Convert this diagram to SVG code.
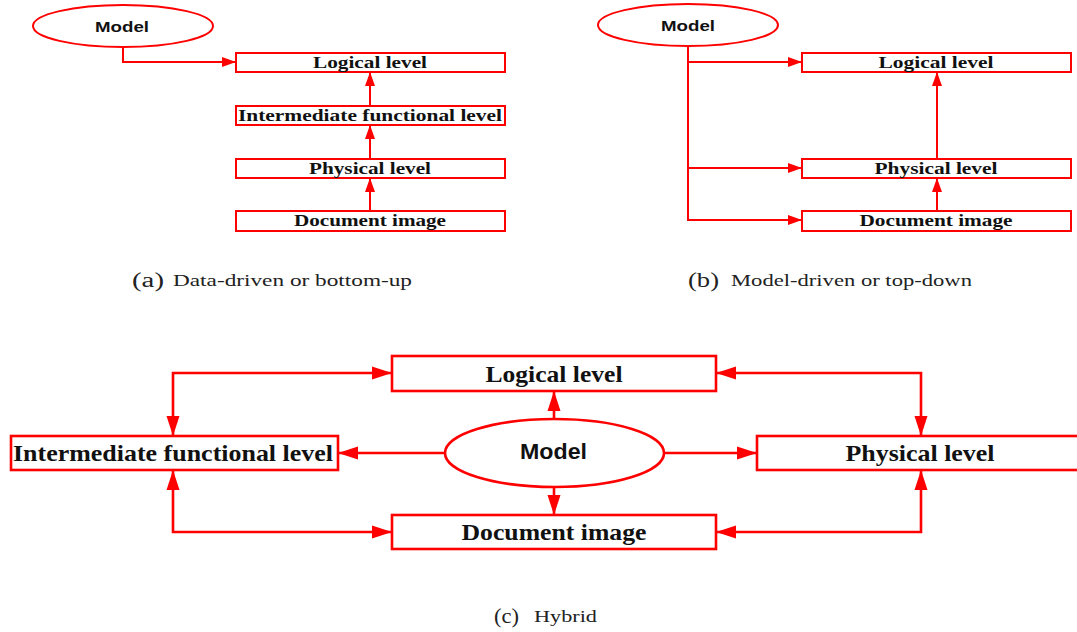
<svg xmlns="http://www.w3.org/2000/svg" width="1077" height="632" viewBox="0 0 1077 632">
<style>
.box{fill:#fff;stroke:#ff0000;stroke-width:2}
.boxc{fill:#fff;stroke:#ff0000;stroke-width:2.6}
.ell{fill:#fff;stroke:#ff0000;stroke-width:2}
.ellc{fill:#fff;stroke:#ff0000;stroke-width:2.6}
.lbl{font-family:"Liberation Serif","Times New Roman",serif;font-weight:bold;fill:#111;text-anchor:middle}
.mdl{font-family:"Liberation Sans",Arial,sans-serif;font-weight:bold;fill:#111;text-anchor:middle}
.cap{font-family:"Liberation Serif","Times New Roman",serif;fill:#222}
.c{fill:none;stroke:#ff0000;stroke-width:2}
.cc{fill:none;stroke:#ff0000;stroke-width:2.6}
</style>
<defs>
<marker id="as" markerUnits="userSpaceOnUse" markerWidth="15" markerHeight="10" refX="14" refY="5" orient="auto-start-reverse"><path d="M0,0 L14,5 L0,10 z" fill="#ff0000"/></marker>
<marker id="al" markerUnits="userSpaceOnUse" markerWidth="21" markerHeight="14" refX="20" refY="7" orient="auto-start-reverse"><path d="M0,0.5 L20,7 L0,13.5 z" fill="#ff0000"/></marker>
</defs>
<rect width="1077" height="632" fill="#fff"/>

<g id="connectors">
<path class="c" d="M123,47 V62 H236" marker-end="url(#as)"/>
<path class="c" d="M370,211 V178" marker-end="url(#as)"/>
<path class="c" d="M370,159 V125" marker-end="url(#as)"/>
<path class="c" d="M370,106 V72" marker-end="url(#as)"/>
<path class="c" d="M688,46 V220 H802" marker-end="url(#as)"/>
<path class="c" d="M688,62 H802" marker-end="url(#as)"/>
<path class="c" d="M688,168 H802" marker-end="url(#as)"/>
<path class="c" d="M937,211 V178" marker-end="url(#as)"/>
<path class="c" d="M937,159 V72" marker-end="url(#as)"/>
<path class="cc" d="M445,453 H338" marker-end="url(#al)"/>
<path class="cc" d="M664,453 H757" marker-end="url(#al)"/>
<path class="cc" d="M554,419 V391" marker-end="url(#al)"/>
<path class="cc" d="M554,487 V515" marker-end="url(#al)"/>
<path class="cc" d="M392,373 H173 V436" marker-start="url(#al)" marker-end="url(#al)"/>
<path class="cc" d="M392,532 H173 V470" marker-start="url(#al)" marker-end="url(#al)"/>
<path class="cc" d="M716,373 H921 V436" marker-start="url(#al)" marker-end="url(#al)"/>
<path class="cc" d="M716,532 H921 V470" marker-start="url(#al)" marker-end="url(#al)"/>
</g>

<g id="a-model"><ellipse class="ell" cx="123" cy="26" rx="90" ry="21"/><text class="mdl" x="122" y="32" font-size="15.5" textLength="54" lengthAdjust="spacingAndGlyphs">Model</text></g>
<g id="a-logical"><rect class="box" x="236" y="53" width="269" height="19"/><text class="lbl" x="370" y="68" font-size="17" textLength="114" lengthAdjust="spacingAndGlyphs">Logical level</text></g>
<g id="a-intermediate"><rect class="box" x="236" y="106" width="269" height="19"/><text class="lbl" x="370" y="121" font-size="17" textLength="264" lengthAdjust="spacingAndGlyphs">Intermediate functional level</text></g>
<g id="a-physical"><rect class="box" x="236" y="159" width="269" height="19"/><text class="lbl" x="370" y="174" font-size="17" textLength="122" lengthAdjust="spacingAndGlyphs">Physical level</text></g>
<g id="a-document"><rect class="box" x="236" y="211" width="269" height="20"/><text class="lbl" x="370" y="226" font-size="17" textLength="152" lengthAdjust="spacingAndGlyphs">Document image</text></g>

<g id="b-model"><ellipse class="ell" cx="688" cy="25" rx="90" ry="21"/><text class="mdl" x="688" y="31" font-size="15.5" textLength="54" lengthAdjust="spacingAndGlyphs">Model</text></g>
<g id="b-logical"><rect class="box" x="802" y="53" width="269" height="19"/><text class="lbl" x="936" y="68" font-size="17" textLength="115" lengthAdjust="spacingAndGlyphs">Logical level</text></g>
<g id="b-physical"><rect class="box" x="802" y="159" width="269" height="19"/><text class="lbl" x="936" y="174" font-size="17" textLength="123" lengthAdjust="spacingAndGlyphs">Physical level</text></g>
<g id="b-document"><rect class="box" x="802" y="211" width="269" height="20"/><text class="lbl" x="936" y="226" font-size="17" textLength="153" lengthAdjust="spacingAndGlyphs">Document image</text></g>

<g id="c-logical"><rect class="boxc" x="392" y="356" width="324" height="35"/><text class="lbl" x="554" y="382" font-size="23" textLength="137" lengthAdjust="spacingAndGlyphs">Logical level</text></g>
<g id="c-intermediate"><rect class="boxc" x="11" y="436" width="327" height="34"/><text class="lbl" x="173" y="461" font-size="23" textLength="320" lengthAdjust="spacingAndGlyphs">Intermediate functional level</text></g>
<g id="c-physical"><rect class="boxc" x="757" y="436" width="328" height="34"/><text class="lbl" x="920" y="461" font-size="23" textLength="149" lengthAdjust="spacingAndGlyphs">Physical level</text></g>
<g id="c-document"><rect class="boxc" x="392" y="515" width="324" height="34"/><text class="lbl" x="554" y="540" font-size="23" textLength="185" lengthAdjust="spacingAndGlyphs">Document image</text></g>
<g id="c-model"><ellipse class="ellc" cx="554.5" cy="453" rx="109.5" ry="34"/><text class="mdl" x="553.5" y="459" font-size="21.5" textLength="67" lengthAdjust="spacingAndGlyphs">Model</text></g>

<g id="captions">
<text class="cap" x="132" y="287" font-size="20" textLength="32" lengthAdjust="spacingAndGlyphs">(a)</text>
<text class="cap" x="173" y="286" font-size="17" textLength="239" lengthAdjust="spacingAndGlyphs">Data-driven or bottom-up</text>
<text class="cap" x="688" y="287" font-size="20" textLength="31" lengthAdjust="spacingAndGlyphs">(b)</text>
<text class="cap" x="731" y="286" font-size="17" textLength="241" lengthAdjust="spacingAndGlyphs">Model-driven or top-down</text>
<text class="cap" x="494" y="623" font-size="20" textLength="25" lengthAdjust="spacingAndGlyphs">(c)</text>
<text class="cap" x="534" y="622" font-size="17" textLength="63" lengthAdjust="spacingAndGlyphs">Hybrid</text>
</g>
</svg>
